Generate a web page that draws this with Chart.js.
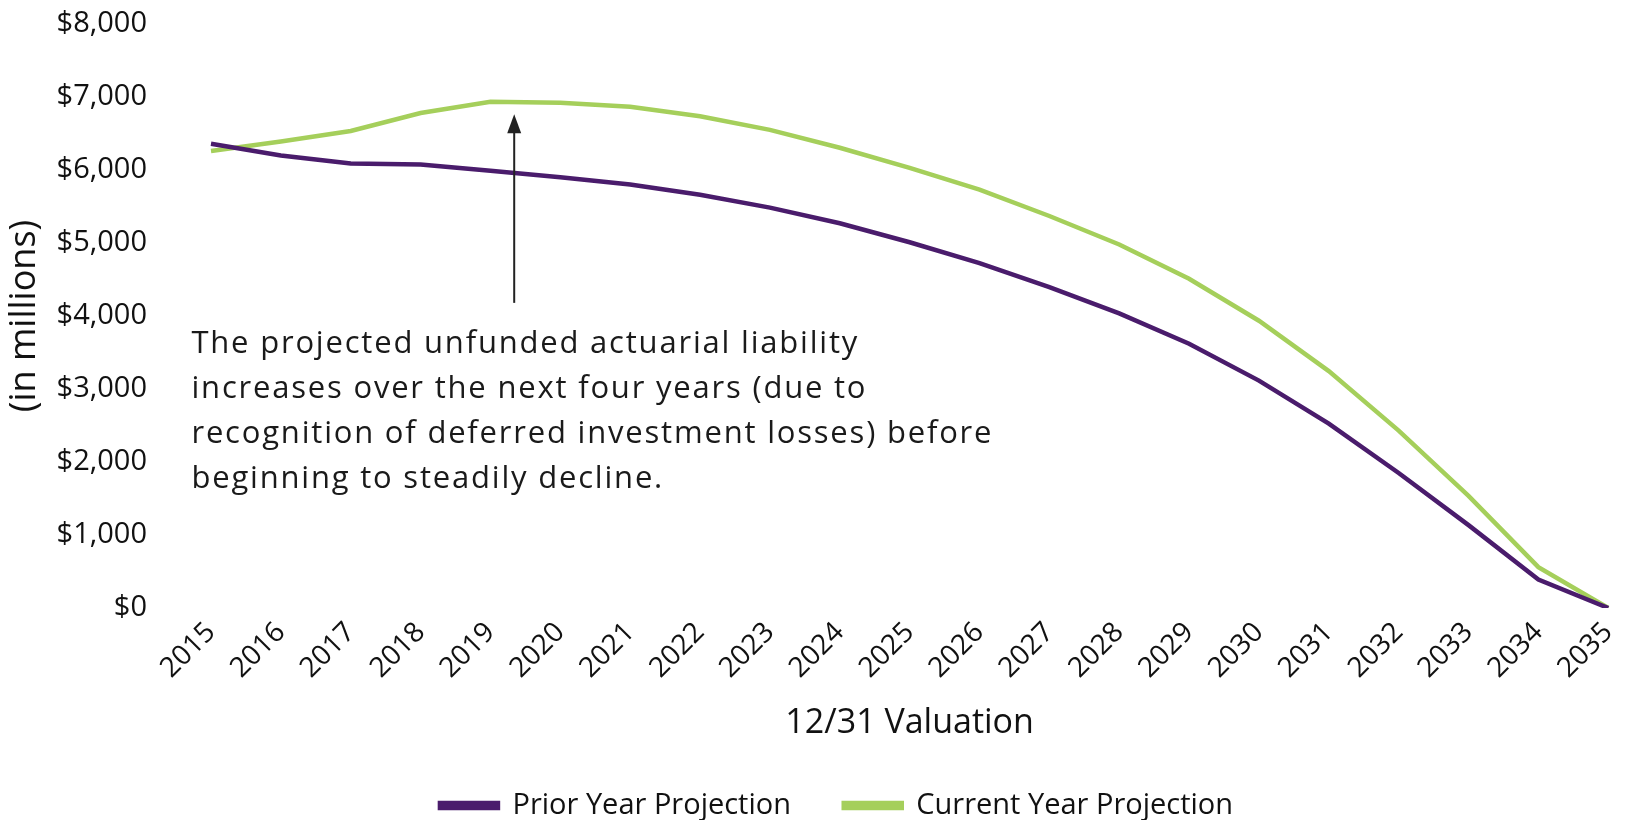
<!DOCTYPE html>
<html>
<head>
<meta charset="utf-8">
<script src="https://cdn.jsdelivr.net/npm/chart.js@4.4.1/dist/chart.umd.min.js"></script>
<style>
  html, body { margin: 0; padding: 0; background: #fff; }
  #wrap { width: 1640px; height: 820px; }
</style>
</head>
<body>
<div id="wrap"><canvas id="chart"></canvas></div>
<script>
const anos = ['2015','2016','2017','2018','2019','2020','2021','2022','2023','2024','2025',
  '2026','2027','2028','2029','2030','2031','2032','2033','2034','2035'];

const anoAnterior = [6360, 6200, 6090, 6075, 5990, 5900, 5800, 5660, 5485, 5270, 5010,
  4725, 4395, 4035, 3620, 3115, 2525, 1850, 1135, 390, 0];

const anoAtual = [6260, 6390, 6535, 6780, 6935, 6920, 6865, 6735, 6550, 6305, 6030,
  5730, 5370, 4980, 4510, 3935, 3245, 2430, 1535, 560, 0];

const notaLinhas = [
  'The projected unfunded actuarial liability',
  'increases over the next four years (due to',
  'recognition of deferred investment losses) before',
  'beginning to steadily decline.'
];
// seta: posição em índice do eixo x, de / até em valores do eixo y
const seta = { x: 4.34, de: 4180, ate: 6765 };
const notaPos = { x: -0.28, y: 3615 };

const roxo = '#4a1c6c';
const verde = '#a5cf5b';
const fonte = "'Open Sans', sans-serif";

const notaPlugin = {
  id: 'nota',
  afterDatasetsDraw(chart) {
    const { ctx, scales: { x, y } } = chart;
    const passo = x.getPixelForValue(1) - x.getPixelForValue(0);
    const ax = x.getPixelForValue(0) + seta.x * passo;
    const y0 = y.getPixelForValue(seta.de);
    const y1 = y.getPixelForValue(seta.ate);
    ctx.save();
    ctx.strokeStyle = '#222';
    ctx.fillStyle = '#222';
    ctx.lineWidth = 2;
    ctx.beginPath();
    ctx.moveTo(ax, y0);
    ctx.lineTo(ax, y1 + 14);
    ctx.stroke();
    ctx.beginPath();
    ctx.moveTo(ax, y1);
    ctx.lineTo(ax - 7, y1 + 19);
    ctx.lineTo(ax + 7, y1 + 19);
    ctx.closePath();
    ctx.fill();

    const tx = x.getPixelForValue(0) + notaPos.x * passo;
    const ty = y.getPixelForValue(notaPos.y);
    ctx.font = "31px " + fonte;
    ctx.letterSpacing = '1.8px';
    ctx.fillStyle = '#1a1a1a';
    ctx.textBaseline = 'middle';
    ctx.textAlign = 'left';
    notaLinhas.forEach((linha, i) => {
      ctx.fillText(linha, tx, ty + i * 45);
    });
    ctx.restore();
  }
};

new Chart(document.getElementById('chart'), {
  type: 'line',
  data: {
    labels: anos,
    datasets: [
      {
        label: 'Prior Year Projection',
        data: anoAnterior,
        borderColor: roxo,
        backgroundColor: roxo,
        borderWidth: 4.5,
        pointRadius: 0,
        tension: 0
      },
      {
        label: 'Current Year Projection',
        data: anoAtual,
        borderColor: verde,
        backgroundColor: verde,
        borderWidth: 4.5,
        pointRadius: 0,
        tension: 0
      }
    ]
  },
  options: {
    responsive: true,
    maintainAspectRatio: false,
    animation: false,
    layout: { padding: { top: 24, right: 17, bottom: -10, left: 50 } },
    plugins: {
      tooltip: { enabled: false },
      legend: {
        position: 'bottom',
        labels: {
          boxWidth: 58,
          boxHeight: 5,
          padding: 0,
          color: '#111',
          font: { family: fonte, size: 29 },
          generateLabels(chart) {
            const itens = Chart.defaults.plugins.legend.labels.generateLabels(chart);
            itens[0].text = itens[0].text + '       ';
            return itens;
          }
        }
      }
    },
    scales: {
      x: {
        grid: { display: false, drawTicks: false },
        border: { display: false },
        ticks: {
          minRotation: 45,
          maxRotation: 45,
          padding: 8,
          color: '#111',
          font: { family: fonte, size: 28 }
        },
        title: {
          display: true,
          text: '12/31 Valuation',
          color: '#111',
          font: { family: fonte, size: 34 },
          padding: { top: 4, bottom: 47 }
        },
        afterFit(scale) { scale.height = 183; }
      },
      y: {
        min: 0,
        max: 8000,
        grid: { color: 'transparent', drawOnChartArea: false, drawTicks: true, tickLength: 60 },
        border: { display: false },
        ticks: {
          stepSize: 1000,
          padding: 4,
          color: '#111',
          font: { family: fonte, size: 29 },
          callback: v => '$' + v.toLocaleString('en-US')
        },
        title: {
          display: true,
          text: '(in millions)',
          color: '#111',
          font: { family: fonte, size: 36 },
          padding: { top: -47 }
        },
        afterFit(scale) { scale.width = 161; }
      }
    }
  },
  plugins: [notaPlugin]
});
</script>
</body>
</html>
